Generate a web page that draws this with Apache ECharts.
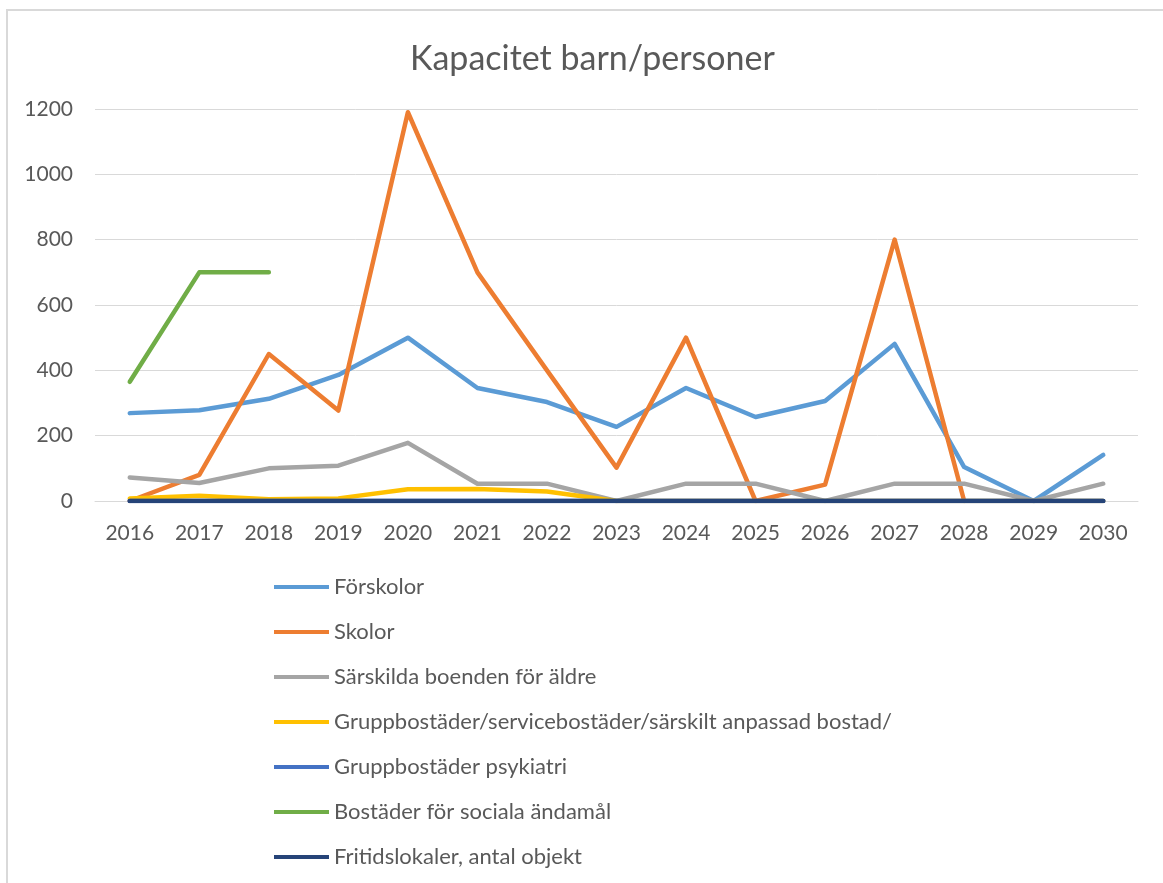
<!DOCTYPE html>
<html><head><meta charset="utf-8">
<script src="https://cdn.jsdelivr.net/npm/echarts@6/dist/echarts.min.js"></script>
<style>html,body{margin:0;padding:0;background:#fff}#c{width:1163px;height:883px}</style>
</head><body><div id="c"></div>
<script>
const years = ['2016','2017','2018','2019','2020','2021','2022','2023','2024','2025','2026','2027','2028','2029','2030'];
const forskolor = [269, 278, 313, 386, 500, 346, 303, 227, 346, 257, 306, 481, 104, 0, 141];
const skolor = [0, 80, 450, 277, 1190, 700, 400, 102, 500, 0, 50, 800, 0, null, null];
const sarskilda = [72, 55, 100, 108, 178, 53, 53, 0, 53, 53, 0, 53, 53, 0, 53];
const gruppbostader = [8, 16, 5, 8, 36, 37, 29, 0, 0, 0, 0, 0, 0, 0, 0];
const psykiatri = [0, 0, 0, 0, 0, 0, 0, 0, 0, 0, 0, 0, 0, 0, 0];
const sociala = [365, 700, 700, null, null, null, null, null, null, null, null, null, null, null, null];
const fritid = [0, 0, 0, 0, 0, 0, 0, 0, 0, 0, 0, 0, 0, 0, 0];
const yTicks = { min: 0, max: 1200, interval: 200 };

const names = ['Förskolor','Skolor','Särskilda boenden för äldre','Gruppbostäder/servicebostäder/särskilt anpassad bostad/','Gruppbostäder psykiatri','Bostäder för sociala ändamål','Fritidslokaler, antal objekt'];
const colors = ['#5B9BD5','#ED7D31','#A5A5A5','#FFC000','#4472C4','#70AD47','#264478'];
const datas = [forskolor, skolor, sarskilda, gruppbostader, psykiatri, sociala, fritid];
const font = 'Lato, "Noto Sans", sans-serif';

const chart = echarts.init(document.getElementById('c'));
chart.setOption({
  animation: false,
  backgroundColor: '#fff',
  color: colors,
  title: { text: 'Kapacitet barn/personer', left: 405, top: 37,
    textStyle: { fontFamily: font, fontSize: 34, fontWeight: 'normal', color: '#595959' } },
  graphic: [{ type: 'rect', shape: { x: 7, y: 10, width: 1200, height: 900 },
    style: { fill: 'none', stroke: '#d9d9d9', lineWidth: 2 }, silent: true }],
  grid: { left: 95, right: 25, top: 109, height: 392, containLabel: false },
  legend: { orient: 'vertical', left: 269, top: 570, itemWidth: 55, itemHeight: 4, itemGap: 21, icon: 'rect',
    textStyle: { fontFamily: font, fontSize: 22, color: '#595959', lineHeight: 24 },
    data: names },
  xAxis: { type: 'category', data: years, boundaryGap: true,
    axisLine: { show: true, lineStyle: { color: '#d9d9d9', width: 1 } },
    axisTick: { show: false },
    axisLabel: { fontFamily: font, fontSize: 21, color: '#595959', margin: 22 } },
  yAxis: { type: 'value', min: yTicks.min, max: yTicks.max, interval: yTicks.interval,
    axisLine: { show: false }, axisTick: { show: false },
    splitLine: { lineStyle: { color: '#d9d9d9', width: 1 } },
    axisLabel: { fontFamily: font, fontSize: 21, color: '#595959', margin: 22, formatter: v => String(v) } },
  series: names.map((n, i) => ({
    name: n, type: 'line', data: datas[i], symbol: 'none', showSymbol: false,
    lineStyle: { width: 4.5, color: colors[i], cap: 'round', join: 'round' },
    itemStyle: { color: colors[i] }, connectNulls: false
  }))
});
</script></body></html>
